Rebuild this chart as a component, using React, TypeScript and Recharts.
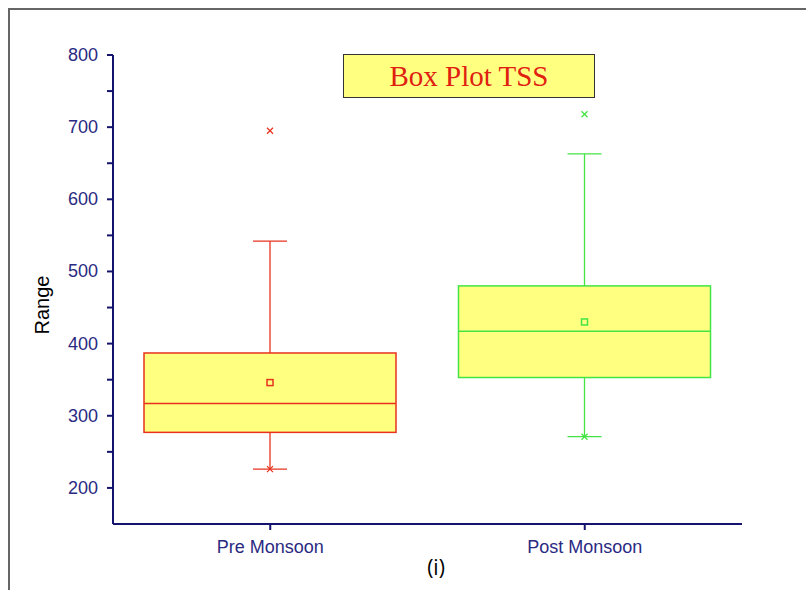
import React from 'react';
import { ComposedChart, Bar, XAxis, YAxis } from 'recharts';

// box plot statistics (TSS)
const categories = ['Pre Monsoon', 'Post Monsoon'];
const q1 = [277, 353];
const median = [317, 417];
const q3 = [387, 480];
const mean = [346, 430];
const whiskerLow = [226, 271];
const whiskerHigh = [542, 663];
const minimum = [226, 271];
const maximum = [695, 718];
const yTicks = [200, 250, 300, 350, 400, 450, 500, 550, 600, 650, 700, 750, 800];

const boxColors = ['#e8321e', '#44e444'];
const axisColor = '#14146e';
const labelColor = '#2a2a82';

const chartData = categories.map((name, i) => ({ name, box: [q1[i], q3[i]] }));

const BoxShape = (props: any) => {
  const { x, y, width, height, index } = props;
  const lo = q1[index];
  const hi = q3[index];
  const k = height / (hi - lo);
  const py = (v: number) => y + (hi - v) * k;
  const cx = x + width / 2;
  const c = boxColors[index];
  const cap = 17;
  const cross = (yy: number) => (
    <g stroke={c} strokeWidth={1.3}>
      <line x1={cx - 3} x2={cx + 3} y1={yy - 3} y2={yy + 3} />
      <line x1={cx - 3} x2={cx + 3} y1={yy + 3} y2={yy - 3} />
    </g>
  );
  return (
    <g>
      <line x1={cx} x2={cx} y1={py(whiskerHigh[index])} y2={y} stroke={c} strokeWidth={1.3} />
      <line x1={cx} x2={cx} y1={y + height} y2={py(whiskerLow[index])} stroke={c} strokeWidth={1.3} />
      <line x1={cx - cap} x2={cx + cap} y1={py(whiskerHigh[index])} y2={py(whiskerHigh[index])} stroke={c} strokeWidth={1.3} />
      <line x1={cx - cap} x2={cx + cap} y1={py(whiskerLow[index])} y2={py(whiskerLow[index])} stroke={c} strokeWidth={1.3} />
      <rect x={x} y={y} width={width} height={height} fill="#ffff80" stroke={c} strokeWidth={1.5} />
      <line x1={x} x2={x + width} y1={py(median[index])} y2={py(median[index])} stroke={c} strokeWidth={1.5} />
      <rect x={cx - 3} y={py(mean[index]) - 3} width={6} height={6} fill="none" stroke={c} strokeWidth={1.5} />
      {cross(py(minimum[index]))}
      {cross(py(maximum[index]))}
    </g>
  );
};

const YTick = ({ x, y, payload }: any) =>
  payload.value % 100 === 0 ? (
    <text x={x} y={y} dy={6} textAnchor="end" fill={labelColor} fontSize={18} fontFamily="Liberation Sans, Arial, sans-serif">
      {payload.value}
    </text>
  ) : (
    <g />
  );

const XTick = ({ x, y, payload }: any) => (
  <text x={x} y={y} dy={21} textAnchor="middle" fill={labelColor} fontSize={18} fontFamily="Liberation Sans, Arial, sans-serif">
    {payload.value}
  </text>
);

export default function App() {
  return (
    <div style={{ position: 'absolute', left: 0, top: 0, width: 806, height: 590, overflow: 'hidden', background: '#fff' }}>
      <div style={{ position: 'absolute', left: 8, top: 8, width: 850, height: 650, border: '2px solid #666' }} />
      <ComposedChart
        width={806}
        height={590}
        data={chartData}
        margin={{ top: 55, right: 64, bottom: 0, left: 0 }}
        style={{ position: 'absolute', left: 0, top: 0 }}
      >
        <XAxis
          dataKey="name"
          height={66}
          stroke={axisColor}
          strokeWidth={2}
          tickSize={6}
          tick={<XTick />}
        />
        <YAxis
          width={113}
          domain={[150, 800]}
          ticks={yTicks}
          allowDataOverflow
          stroke={axisColor}
          strokeWidth={2}
          tickSize={6}
          tickMargin={9}
          tick={<YTick />}
        />
        <Bar dataKey="box" barSize={252} shape={<BoxShape />} isAnimationActive={false} />
      </ComposedChart>
      <div
        style={{
          position: 'absolute', left: 343, top: 54, width: 250, height: 42,
          background: '#ffff80', border: '1.5px solid #333',
          display: 'flex', alignItems: 'center', justifyContent: 'center',
          fontFamily: 'Liberation Serif, Times New Roman, serif', fontSize: 29, color: '#e02010'
        }}
      >
        Box Plot TSS
      </div>
      <div
        style={{
          position: 'absolute', left: 42, top: 305, transform: 'translate(-50%, -50%) rotate(-90deg)',
          fontFamily: 'Liberation Sans, Arial, sans-serif', fontSize: 20, color: '#000', whiteSpace: 'nowrap'
        }}
      >
        Range
      </div>
      <div
        style={{
          position: 'absolute', left: 436, top: 567, transform: 'translate(-50%, -50%)',
          fontFamily: 'Open Sans, sans-serif', fontSize: 21, color: '#000'
        }}
      >
        (i)
      </div>
    </div>
  );
}
